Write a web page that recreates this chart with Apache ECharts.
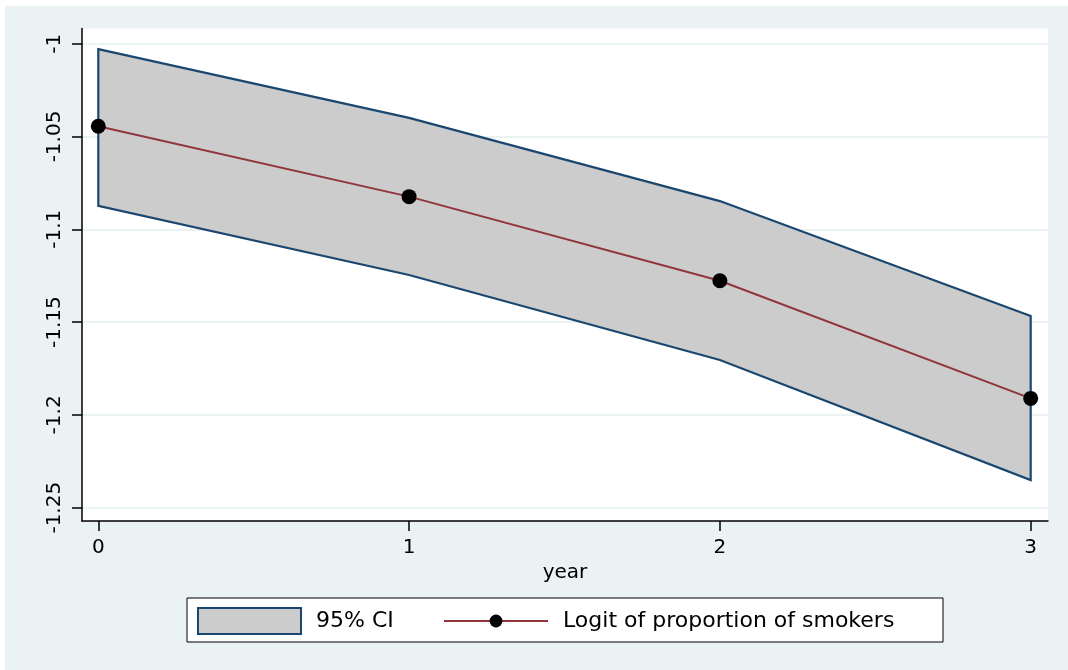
<!DOCTYPE html>
<html>
<head>
<meta charset="utf-8">
<script src="https://cdn.jsdelivr.net/npm/echarts@6/dist/echarts.min.js"></script>
<style>
  html, body { margin: 0; padding: 0; background: #ffffff; }
  #chart { position: absolute; left: 5px; top: 6px; width: 1063px; height: 664px; }
</style>
</head>
<body>
<div id="chart"></div>
<script>
const years = [0, 1, 2, 3];
const logitValues = [-1.0445, -1.0824, -1.1277, -1.1911];
const ciUpper = [-1.0029, -1.0400, -1.0848, -1.1467];
const ciLower = [-1.0874, -1.1246, -1.1704, -1.2351];
const yTicks = [-1.25, -1.2, -1.15, -1.1, -1.05, -1];
const xTicks = [0, 1, 2, 3];

const FONT = "'DejaVu Sans', 'Liberation Sans', Arial, sans-serif";
const chart = echarts.init(document.getElementById('chart'));

const option = {
  backgroundColor: '#eaf2f3',
  animation: false,
  grid: {
    left: 77, top: 22.5, width: 966, height: 492.5,
    show: true, backgroundColor: '#ffffff', borderWidth: 0
  },
  xAxis: {
    type: 'value',
    min: -0.0524, max: 3.0557,
    name: 'year', nameLocation: 'middle', nameGap: 38,
    nameTextStyle: { fontFamily: FONT, fontSize: 20, color: '#000' },
    axisLine: { show: true, onZero: false, lineStyle: { color: '#000', width: 1.5 } },
    axisTick: { show: true, length: 10, customValues: xTicks, lineStyle: { color: '#000', width: 1.5 } },
    axisLabel: { customValues: xTicks, margin: 17, fontFamily: FONT, fontSize: 20, color: '#000',
                 formatter: v => String(Math.round(v)) },
    splitLine: { show: false }
  },
  yAxis: {
    type: 'value',
    min: -1.25717, max: -0.99181,
    axisLine: { show: true, onZero: false, lineStyle: { color: '#000', width: 1.5 } },
    axisTick: { show: true, length: 10, customValues: yTicks, lineStyle: { color: '#000', width: 1.5 } },
    axisLabel: { customValues: yTicks, rotate: 90, margin: 17, fontFamily: FONT, fontSize: 20, color: '#000',
                 formatter: v => String(+(+v).toFixed(2)) },
    splitLine: { show: true, lineStyle: { color: '#eaf2f3', width: 2 } }
  },
  graphic: [{
    type: 'rect', z: 1,
    shape: { x: 182, y: 592, width: 756, height: 44 },
    style: { fill: '#ffffff', stroke: '#000000', lineWidth: 1 }
  }],
  legend: [
    {
      data: [{ name: '95% CI', icon: 'rect',
               itemStyle: { color: '#cccccc', borderColor: '#1a476f', borderWidth: 2 } }],
      left: 192, top: 601, itemWidth: 103, itemHeight: 26, padding: 0,
      textStyle: { fontFamily: FONT, fontSize: 22, color: '#000', padding: [0, 0, 0, 10] }
    },
    {
      data: ['Logit of proportion of smokers'],
      left: 438, top: 604, itemWidth: 104, itemHeight: 16, padding: 0,
      textStyle: { fontFamily: FONT, fontSize: 22, color: '#000', padding: [0, 0, 0, 10] }
    }
  ],
  series: [
    {
      name: '95% CI',
      type: 'custom',
      z: 1,
      itemStyle: { color: '#cccccc', borderColor: '#1a476f', borderWidth: 2 },
      data: years.map((y, i) => [y, ciLower[i], ciUpper[i]]),
      renderItem: function (params, api) {
        if (params.dataIndex !== 0) return;
        const pts = [];
        for (let i = 0; i < years.length; i++) pts.push(api.coord([years[i], ciUpper[i]]));
        for (let i = years.length - 1; i >= 0; i--) pts.push(api.coord([years[i], ciLower[i]]));
        return {
          type: 'polygon',
          shape: { points: pts },
          style: { fill: '#cccccc', stroke: '#1a476f', lineWidth: 2.2 }
        };
      }
    },
    {
      name: 'Logit of proportion of smokers',
      type: 'line',
      z: 3,
      data: years.map((y, i) => [y, logitValues[i]]),
      symbol: 'circle',
      symbolSize: 15,
      itemStyle: { color: '#000000' },
      lineStyle: { color: '#90353b', width: 2 }
    }
  ]
};
chart.setOption(option);
</script>
</body>
</html>
